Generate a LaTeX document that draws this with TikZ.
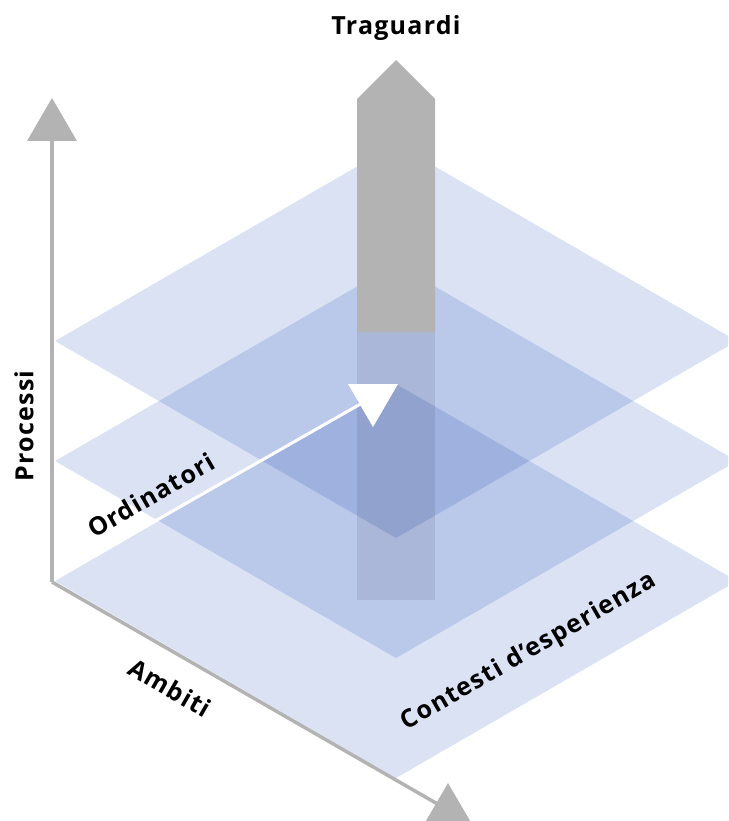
\documentclass[tikz,border=0pt]{standalone}
\usepackage{fontspec}
\setmainfont{Open Sans}[LetterSpace=5]
\definecolor{pianoblu}{RGB}{218,226,244}
\definecolor{grigio}{RGB}{179,179,179}
\definecolor{ombra}{RGB}{234,234,237}
\begin{document}
\begin{tikzpicture}[x=1pt,y=-1pt,
    piano/.style={fill=pianoblu,blend mode=multiply},
    asse/.style={draw=grigio,line width=3.5pt},
    punta/.style={fill=grigio},
    etichetta/.style={font=\bfseries\fontsize{25}{25}\selectfont,inner sep=0pt}]
	\clip (0,0) rectangle (728,821);
	%			Piani
	\foreach \y in {341,461,581}
		\fill[piano] (55,\y) -- ++(341,-197) -- ++(341,197) -- ++(-341,197) -- cycle;
	%			Assi
	\coordinate (O) at (52,582);
	\coordinate (P) at (52,141);
	\coordinate (A) at (448,810);
	\draw[asse] (O) -- (P);
	\fill[punta] (27,141) -- (52,98) -- (77,141) -- cycle;
	\draw[asse] (O) -- (A);
	\fill[punta] (423,826) -- (448,783) -- (473,826) -- cycle;
	%			Traguardi
	\fill[ombra,blend mode=multiply] (357,332) rectangle (435,600);
	\fill[grigio] (357,332) -- (357,99) -- (396,60) -- (435,99) -- (435,332) -- cycle;
	%			Ordinatori
	\coordinate (S) at (155,521);
	\coordinate (E) at (364,402);
	\draw[white,line width=3pt] (S) -- (E);
	\fill[white] (348,384) -- (398,384) -- (373,427) -- cycle;
	%			Testi
	\node[etichetta] (traguardi) at (396,28) {Traguardi};
	\node[etichetta,rotate=90] (processi) at (24,426) {Processi};
	\node[etichetta,rotate=30] (ordinatori) at (151,495) {Ordinatori};
	\node[etichetta,rotate=-30] (ambiti) at (170,688) {Ambiti};
	\node[etichetta,rotate=30] (contesti) at (529,652) {Contesti d’esperienza};
\end{tikzpicture}
\end{document}
